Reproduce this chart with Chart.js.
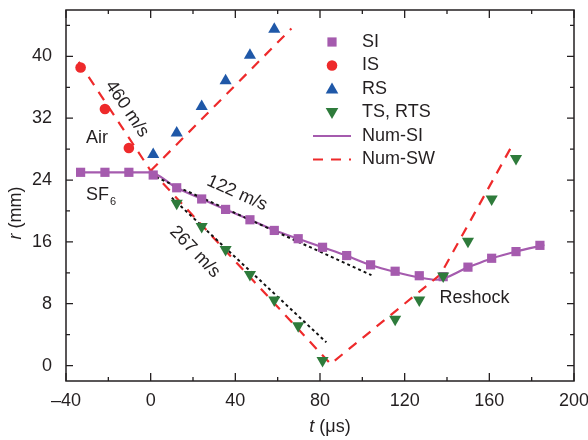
<!DOCTYPE html>
<html>
<head>
<meta charset="utf-8">
<script src="https://cdn.jsdelivr.net/npm/chart.js@4.4.1/dist/chart.umd.min.js"></script>
<style>
  html, body { margin: 0; padding: 0; background: #fff; }
</style>
</head>
<body>
<canvas id="chart" width="588" height="440"></canvas>
<script>
// t in microseconds, r in mm
const siT = [-33.1, -21.6, -10.3, 1.2, 12.3, 24.1, 35.4, 46.9, 58.4, 69.7, 81.2, 92.6, 103.9, 115.5, 126.9, 138.2, 149.9, 161.1, 172.6, 183.9];
const siR = [25.0, 25.0, 25.0, 24.65, 23.0, 21.55, 20.2, 18.86, 17.48, 16.41, 15.3, 14.23, 13.03, 12.2, 11.62, 11.5, 12.73, 13.88, 14.74, 15.55];

const isT = [-33.1, -21.6, -10.3];
const isR = [38.56, 33.2, 28.15];

const rsT = [1.2, 12.3, 24.1, 35.4, 46.9, 58.4];
const rsR = [27.3, 30.1, 33.5, 36.85, 40.15, 43.5];

const tsT = [12.3, 24.1, 35.4, 46.9, 58.4, 69.7, 81.2, 115.5, 126.9, 138.2, 149.9, 161.1, 172.6];
const tsR = [21.0, 18.0, 15.0, 11.79, 8.48, 5.14, 0.64, 6.0, 8.48, 11.57, 16.07, 21.55, 26.8];

// numerical interface (solid purple)
const numSiT = [-35, -0.5, 12.3, 24.1, 35.4, 46.9, 58.4, 69.7, 81.2, 92.6, 103.9, 115.5, 126.9, 135, 149.9, 161.1, 172.6, 186];
const numSiR = [25.0, 25.0, 23.0, 21.55, 20.2, 18.86, 17.5, 16.4, 15.3, 14.2, 13.0, 12.1, 11.4, 11.1, 12.7, 13.85, 14.75, 15.6];

// numerical shock waves (red dashed)
const numIsT = [-34, 0];
const numIsR = [39.3, 25.2];
const numRsT = [0, 66.5];
const numRsR = [25.2, 43.6];
const numTsT = [0, 85, 137, 170];
const numTsR = [25.3, 0.2, 11.8, 28.1];

// linear fits (black dotted)
const fit122T = [0, 104.3];
const fit122R = [24.7, 11.7];
const fit267T = [10, 83];
const fit267R = [21.7, 3.0];

const xMajor = [-40, 0, 40, 80, 120, 160, 200];
const xMinor = [-20, 20, 60, 100, 140, 180];
const yMajor = [0, 8, 16, 24, 32, 40];
const yMinor = [4, 12, 20, 28, 36, 44];

const PURPLE = '#a55bae';
const RED = '#ee2a2b';
const BLUE = '#1f58a8';
const GREEN = '#2e7b3b';
const INK = '#231f20';
const FONT = '"Liberation Sans", Arial, sans-serif';

const pts = (xs, ys) => xs.map((v, i) => ({ x: v, y: ys[i] }));

const annotations = [
  { text: '460 m/s', x: -11.2, y: 33.2, angle: 56 },
  { text: 'Air', x: -25.3, y: 29.5, angle: 0 },
  { text: '122 m/s', x: 40.8, y: 22.3, angle: 24 },
  { text: '267 m/s', x: 20.9, y: 14.7, angle: 46 },
  { text: 'Reshock', x: 153, y: 8.7, angle: 0 }
];

const legendItems = [
  { label: 'SI', kind: 'rect', color: PURPLE },
  { label: 'IS', kind: 'circle', color: RED },
  { label: 'RS', kind: 'tri', color: BLUE },
  { label: 'TS, RTS', kind: 'triDown', color: GREEN },
  { label: 'Num-SI', kind: 'solid', color: PURPLE },
  { label: 'Num-SW', kind: 'dash', color: RED }
];

function marker(ctx, kind, x, y, color) {
  ctx.fillStyle = color;
  ctx.beginPath();
  if (kind === 'rect') {
    ctx.rect(x - 4.6, y - 4.6, 9.2, 9.2);
  } else if (kind === 'circle') {
    ctx.arc(x, y, 5.3, 0, Math.PI * 2);
  } else if (kind === 'tri') {
    ctx.moveTo(x, y - 6.5); ctx.lineTo(x + 6.3, y + 4.5); ctx.lineTo(x - 6.3, y + 4.5);
  } else if (kind === 'triDown') {
    ctx.moveTo(x, y + 6.5); ctx.lineTo(x + 6.3, y - 4.5); ctx.lineTo(x - 6.3, y - 4.5);
  }
  ctx.closePath();
  ctx.fill();
}

const decor = {
  id: 'decor',
  afterDraw(chart) {
    const { ctx, chartArea: a, scales: { x, y } } = chart;
    ctx.save();

    // frame
    ctx.strokeStyle = INK;
    ctx.lineWidth = 1.5;
    ctx.strokeRect(a.left, a.top, a.right - a.left, a.bottom - a.top);

    // inward ticks on all four sides
    ctx.lineWidth = 1.3;
    const tickX = (v, len) => {
      const px = x.getPixelForValue(v);
      ctx.beginPath();
      ctx.moveTo(px, a.bottom); ctx.lineTo(px, a.bottom - len);
      ctx.moveTo(px, a.top); ctx.lineTo(px, a.top + len);
      ctx.stroke();
    };
    const tickY = (v, len) => {
      const py = y.getPixelForValue(v);
      ctx.beginPath();
      ctx.moveTo(a.left, py); ctx.lineTo(a.left + len, py);
      ctx.moveTo(a.right, py); ctx.lineTo(a.right - len, py);
      ctx.stroke();
    };
    xMajor.forEach(v => tickX(v, 8));
    xMinor.forEach(v => tickX(v, 4));
    yMajor.forEach(v => tickY(v, 7));
    yMinor.forEach(v => tickY(v, 4));

    // axis titles
    ctx.fillStyle = INK;
    ctx.textBaseline = 'middle';
    ctx.font = 'italic 18px ' + FONT;
    const it = ctx.measureText('t').width;
    ctx.font = '18px ' + FONT;
    const rest = ctx.measureText(' (\u03bcs)').width;
    let sx = (a.left + a.right) / 2 + 10 - (it + rest) / 2;
    ctx.textAlign = 'left';
    ctx.font = 'italic 18px ' + FONT;
    ctx.fillText('t', sx, 427);
    ctx.font = '18px ' + FONT;
    ctx.fillText(' (\u03bcs)', sx + it, 427);

    ctx.save();
    ctx.translate(16, 213);
    ctx.rotate(-Math.PI / 2);
    ctx.font = 'italic 18px ' + FONT;
    const ir = ctx.measureText('r').width;
    ctx.font = '18px ' + FONT;
    const rr = ctx.measureText(' (mm)').width;
    sx = -(ir + rr) / 2;
    ctx.font = 'italic 18px ' + FONT;
    ctx.fillText('r', sx, 0);
    ctx.font = '18px ' + FONT;
    ctx.fillText(' (mm)', sx + ir, 0);
    ctx.restore();

    // text annotations
    ctx.font = '18px ' + FONT;
    ctx.textAlign = 'center';
    annotations.forEach(n => {
      ctx.save();
      ctx.translate(x.getPixelForValue(n.x), y.getPixelForValue(n.y));
      ctx.rotate(n.angle * Math.PI / 180);
      ctx.fillText(n.text, 0, 0);
      ctx.restore();
    });
    // SF6 with subscript
    const sfx = x.getPixelForValue(-30.5);
    const sfy = y.getPixelForValue(22.1);
    ctx.textAlign = 'left';
    ctx.fillText('SF', sfx, sfy);
    const sfw = ctx.measureText('SF').width;
    ctx.font = '11px ' + FONT;
    ctx.fillText('6', sfx + sfw + 1, sfy + 7);

    // legend
    ctx.font = '18px ' + FONT;
    ctx.textAlign = 'left';
    legendItems.forEach((it2, i) => {
      const ly = 42 + i * 23.5;
      if (it2.kind === 'solid' || it2.kind === 'dash') {
        ctx.strokeStyle = it2.color;
        ctx.lineWidth = 2.2;
        ctx.setLineDash(it2.kind === 'dash' ? [10, 8] : []);
        ctx.beginPath();
        ctx.moveTo(313, ly); ctx.lineTo(351, ly);
        ctx.stroke();
        ctx.setLineDash([]);
      } else {
        marker(ctx, it2.kind, 332, ly, it2.color);
      }
      ctx.fillStyle = INK;
      ctx.fillText(it2.label, 362, ly);
    });

    ctx.restore();
  }
};

const markerSet = (label, xs, ys, style, color, extra) => Object.assign({
  label, data: pts(xs, ys), pointStyle: style,
  backgroundColor: color, borderColor: color, borderWidth: 0,
  pointRadius: 6.5, showLine: false
}, extra || {});

const lineSet = (label, xs, ys, color, dash, extra) => Object.assign({
  label, data: pts(xs, ys), showLine: true, pointRadius: 0,
  borderColor: color, borderWidth: 2.2, borderDash: dash, fill: false
}, extra || {});

// keep the plot box exactly where the reference has it
const noPad = s => { s.paddingTop = 0; s.paddingBottom = 0; s.paddingLeft = 0; s.paddingRight = 0; };

new Chart(document.getElementById('chart'), {
  type: 'scatter',
  data: {
    datasets: [
      markerSet('TS, RTS', tsT, tsR, 'triangle', GREEN, { pointRotation: 180, pointRadius: 7 }),
      markerSet('SI', siT, siR, 'rect', PURPLE),
      markerSet('IS', isT, isR, 'circle', RED, { pointRadius: 5.3 }),
      markerSet('RS', rsT, rsR, 'triangle', BLUE, { pointRadius: 7 }),
      lineSet('fit 122', fit122T, fit122R, '#111', [3, 3], { borderWidth: 2 }),
      lineSet('fit 267', fit267T, fit267R, '#111', [3, 3], { borderWidth: 2 }),
      lineSet('Num-SW IS', numIsT, numIsR, RED, [10, 8]),
      lineSet('Num-SW RS', numRsT, numRsR, RED, [10, 8]),
      lineSet('Num-SW TS', numTsT, numTsR, RED, [10, 8]),
      lineSet('Num-SI', numSiT, numSiR, PURPLE, [], { cubicInterpolationMode: 'monotone' })
    ]
  },
  options: {
    responsive: false,
    animation: false,
    layout: { padding: { top: 10, right: 14, left: 0, bottom: 0 } },
    plugins: {
      legend: { display: false },
      tooltip: { enabled: false }
    },
    scales: {
      x: {
        type: 'linear', min: -40, max: 200,
        afterBuildTicks: s => { s.ticks = xMajor.map(v => ({ value: v })); },
        afterFit: s => { s.height = 59; noPad(s); },
        grid: { display: false },
        border: { display: false },
        ticks: {
          padding: 1, color: INK, font: { family: FONT, size: 18 },
          maxRotation: 0,
          callback: v => v < 0 ? '\u2013' + Math.abs(v) : String(v)
        }
      },
      y: {
        type: 'linear', min: -2, max: 46,
        afterBuildTicks: s => { s.ticks = yMajor.map(v => ({ value: v })); },
        afterFit: s => { s.width = 66; noPad(s); },
        grid: { display: false },
        border: { display: false },
        ticks: { padding: 6, color: INK, font: { family: FONT, size: 18 } }
      }
    }
  },
  plugins: [decor]
});
</script>
</body>
</html>
